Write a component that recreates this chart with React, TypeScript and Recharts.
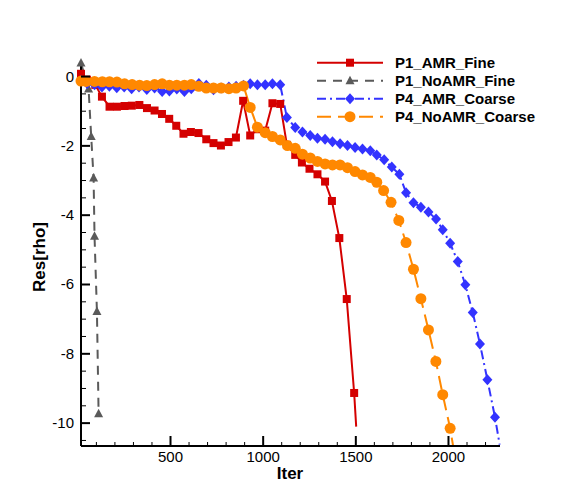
import { LineChart, Line, XAxis, YAxis, Legend } from 'recharts';

// P1_AMR_Fine
const p1AmrIter = [17, 49, 94, 130, 171, 211, 252, 291, 332, 373, 414, 454, 493, 531, 570, 610, 651, 693, 732, 772, 813, 853, 892, 930, 970, 1011, 1050, 1092, 1128, 1173, 1209, 1250, 1293, 1334, 1371, 1411, 1451, 1491, 1502];
const p1AmrRes = [0.08, -0.09, -0.24, -0.58, -0.87, -0.87, -0.85, -0.84, -0.82, -0.91, -0.98, -1.08, -1.22, -1.42, -1.65, -1.6, -1.63, -1.81, -1.92, -1.99, -1.89, -1.76, -0.7, -1.7, -1.52, -1.56, -0.77, -0.79, -1.97, -2.26, -2.48, -2.66, -2.82, -3.03, -3.59, -4.66, -6.42, -9.13, -10.1];

// P1_NoAMR_Fine
const p1NoAmrIter = [17, 58, 72, 85, 90, 103, 112];
const p1NoAmrRes = [0.39, -0.36, -1.73, -2.93, -4.61, -6.78, -9.73];

// P4_AMR_Coarse
const p4AmrIter = [17, 50, 90, 130, 170, 210, 250, 290, 330, 372, 414, 455, 494, 534, 575, 612, 653, 693, 732, 773, 815, 854, 894, 930, 969, 1011, 1050, 1092, 1128, 1173, 1212, 1254, 1293, 1334, 1374, 1415, 1455, 1496, 1536, 1578, 1613, 1653, 1694, 1735, 1771, 1811, 1851, 1892, 1933, 1969, 2009, 2050, 2091, 2131, 2170, 2210, 2251, 2276];
const p4AmrRes = [-0.12, -0.2, -0.24, -0.3, -0.28, -0.32, -0.3, -0.35, -0.3, -0.37, -0.33, -0.43, -0.42, -0.36, -0.43, -0.35, -0.2, -0.25, -0.38, -0.33, -0.3, -0.28, -0.25, -0.21, -0.24, -0.24, -0.21, -0.24, -1.18, -1.47, -1.6, -1.7, -1.78, -1.81, -1.88, -1.94, -1.99, -2.05, -2.09, -2.14, -2.26, -2.4, -2.61, -2.82, -3.35, -3.64, -3.77, -3.91, -4.11, -4.42, -4.81, -5.34, -6.01, -6.81, -7.72, -8.75, -9.83, -10.62];

// P4_NoAMR_Coarse
const p4NoAmrIter = [17, 45, 90, 132, 171, 211, 252, 293, 333, 372, 414, 455, 494, 534, 575, 612, 653, 693, 732, 773, 815, 854, 894, 930, 969, 1011, 1050, 1092, 1131, 1173, 1212, 1254, 1293, 1334, 1374, 1415, 1455, 1496, 1536, 1578, 1613, 1650, 1690, 1732, 1771, 1811, 1851, 1892, 1932, 1969, 2009, 2025];
const p4NoAmrRes = [-0.13, -0.14, -0.14, -0.15, -0.15, -0.16, -0.21, -0.23, -0.25, -0.26, -0.23, -0.21, -0.25, -0.25, -0.25, -0.23, -0.28, -0.33, -0.33, -0.33, -0.35, -0.33, -0.27, -0.89, -1.46, -1.62, -1.73, -1.83, -1.99, -2.07, -2.24, -2.35, -2.45, -2.52, -2.55, -2.55, -2.63, -2.74, -2.84, -2.91, -3.05, -3.29, -3.63, -4.15, -4.79, -5.56, -6.41, -7.31, -8.22, -9.18, -10.15, -10.66];

const xTicks = [100, 200, 300, 400, 500, 600, 700, 800, 900, 1000, 1100, 1200, 1300, 1400, 1500, 1600, 1700, 1800, 1900, 2000, 2100, 2200];
const yTicks = [-10.5, -10, -9.5, -9, -8.5, -8, -7.5, -7, -6.5, -6, -5.5, -5, -4.5, -4, -3.5, -3, -2.5, -2, -1.5, -1, -0.5, 0];

const zip = (xs: number[], ys: number[]) => xs.map((x, i) => ({ x, y: ys[i] }));

const FONT = '"Liberation Sans", Arial, Helvetica, sans-serif';

type Shape = 'square' | 'triangle' | 'diamond' | 'circle';

const series = [
  { name: 'P1_AMR_Fine', data: zip(p1AmrIter, p1AmrRes), color: '#d40000', dash: undefined, shape: 'square' as Shape, lastBare: true },
  { name: 'P1_NoAMR_Fine', data: zip(p1NoAmrIter, p1NoAmrRes), color: '#5a5a5a', dash: '9 7', shape: 'triangle' as Shape, lastBare: false },
  { name: 'P4_AMR_Coarse', data: zip(p4AmrIter, p4AmrRes), color: '#3333ff', dash: '9 4 2 4', shape: 'diamond' as Shape, lastBare: true },
  { name: 'P4_NoAMR_Coarse', data: zip(p4NoAmrIter, p4NoAmrRes), color: '#ff8800', dash: '14 7', shape: 'circle' as Shape, lastBare: true },
];

function Marker({ shape, cx, cy, color }: { shape: Shape; cx: number; cy: number; color: string }) {
  if (shape === 'square') return <rect x={cx - 4} y={cy - 4} width={8} height={8} fill={color} />;
  if (shape === 'triangle')
    return <polygon points={`${cx},${cy - 5} ${cx + 4.5},${cy + 3.5} ${cx - 4.5},${cy + 3.5}`} fill={color} />;
  if (shape === 'diamond')
    return <polygon points={`${cx},${cy - 5.5} ${cx + 5},${cy} ${cx},${cy + 5.5} ${cx - 5},${cy}`} fill={color} />;
  return <circle cx={cx} cy={cy} r={5.5} fill={color} />;
}

const makeDot = (shape: Shape, color: string, count: number, lastBare: boolean) => (props: any) => {
  const { cx, cy, index } = props;
  if (cx == null || cy == null || (lastBare && index === count - 1)) return <g key={`d-${index}`} />;
  return (
    <g key={`d-${index}`}>
      <Marker shape={shape} cx={cx} cy={cy} color={color} />
    </g>
  );
};

const XTick = (props: any) => {
  const { x, y, payload } = props;
  const v = payload.value;
  const major = v % 500 === 0;
  return (
    <g>
      <line x1={x} y1={y} x2={x} y2={y - (major ? 10 : 4)} stroke="#000" strokeWidth={major ? 2 : 1} />
      {major && (
        <text x={x} y={y + 16} textAnchor="middle" fontSize={15} fontFamily={FONT} fill="#000">
          {v}
        </text>
      )}
    </g>
  );
};

const YTick = (props: any) => {
  const { x, y, payload } = props;
  const v = payload.value;
  const major = Math.abs(v % 2) < 1e-9;
  return (
    <g>
      <line x1={x} y1={y} x2={x + (major ? 9 : 5)} y2={y} stroke="#000" strokeWidth={major ? 2 : 1} />
      {major && (
        <text x={x - 7} y={y + 5} textAnchor="end" fontSize={15} fontFamily={FONT} fill="#000">
          {v}
        </text>
      )}
    </g>
  );
};

const LegendBox = () => (
  <svg width={240} height={80}>
    {series.map((s, i) => {
      const cy = 12.7 + i * 18;
      return (
        <g key={s.name}>
          <line x1={7} x2={73} y1={cy} y2={cy} stroke={s.color} strokeWidth={2} strokeDasharray={s.dash} />
          <Marker shape={s.shape} cx={40} cy={cy} color={s.color} />
          <text x={85} y={cy + 5.5} fontSize={15} fontWeight="bold" fontFamily={FONT} fill="#000">
            {s.name}
          </text>
        </g>
      );
    })}
  </svg>
);

export default function App() {
  return (
    <div style={{ position: 'absolute', left: 0, top: 0, width: 564, height: 501, background: '#fff' }}>
      <LineChart width={564} height={501} margin={{ top: 62, right: 64, bottom: 25, left: 21 }}>
        <XAxis
          type="number"
          dataKey="x"
          domain={[17, 2278]}
          ticks={xTicks}
          interval={0}
          tickSize={0}
          tickMargin={0}
          tickLine={false}
          tick={<XTick />}
          axisLine={{ stroke: '#000', strokeWidth: 2 }}
          height={30}
        />
        <YAxis
          type="number"
          dataKey="y"
          domain={[-10.66, 0.42]}
          ticks={yTicks}
          interval={0}
          tickSize={0}
          tickMargin={0}
          tickLine={false}
          tick={<YTick />}
          axisLine={{ stroke: '#000', strokeWidth: 2 }}
          width={60}
        />
        <Legend
          layout="horizontal"
          verticalAlign="middle"
          align="center"
          wrapperStyle={{ left: 310, top: 50, width: 240 }}
          content={() => <LegendBox />}
        />
        {series.map((s) => (
          <Line
            key={s.name}
            data={s.data}
            dataKey="y"
            name={s.name}
            type="linear"
            stroke={s.color}
            strokeWidth={2}
            strokeDasharray={s.dash}
            dot={makeDot(s.shape, s.color, s.data.length, s.lastBare)}
            activeDot={false}
            isAnimationActive={false}
          />
        ))}
        <text x={290} y={479} textAnchor="middle" fontSize={17} fontWeight="bold" fontFamily={FONT} fill="#000">
          Iter
        </text>
        <text
          x={45}
          y={257}
          textAnchor="middle"
          fontSize={17}
          fontWeight="bold"
          fontFamily={FONT}
          fill="#000"
          transform="rotate(-90 45 257)"
        >
          Res[rho]
        </text>
      </LineChart>
    </div>
  );
}
